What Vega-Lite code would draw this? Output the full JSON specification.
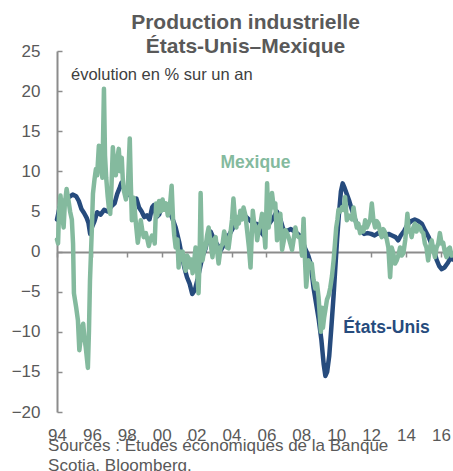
{
  "$schema": "https://vega.github.io/schema/vega-lite/v6.json",
  "autosize": "none",
  "padding": {"left": 57, "top": 51, "right": 0, "bottom": 59},
  "width": 397,
  "height": 361,
  "background": "white",
  "config": {"view": {"stroke": null}, "font": "Liberation Sans", "axis": {"labelOverlap": false, "labelBound": false, "labelFlush": false}},
  "title": {
    "text": ["Production industrielle", "États-Unis–Mexique"],
    "fontSize": 21,
    "fontWeight": "bold",
    "color": "#595959",
    "font": "Liberation Sans",
    "lineHeight": 24,
    "anchor": "middle",
    "frame": "group",
    "dx": -10,
    "offset": -15
  },
  "datasets": {
    "us": [
      {"t":1994.0,"v":4.0},{"t":1994.15,"v":5.5},{"t":1994.3,"v":5.8},{"t":1994.5,"v":6.5},{"t":1994.7,"v":6.8},{"t":1994.9,"v":7.1},
      {"t":1995.1,"v":6.9},{"t":1995.25,"v":6.3},{"t":1995.4,"v":5.3},{"t":1995.55,"v":4.8},{"t":1995.7,"v":4.2},{"t":1995.8,"v":3.6},{"t":1995.9,"v":2.2},
      {"t":1996.0,"v":3.0},{"t":1996.15,"v":3.8},{"t":1996.3,"v":4.9},{"t":1996.5,"v":4.6},{"t":1996.7,"v":5.2},{"t":1996.9,"v":5.0},
      {"t":1997.1,"v":5.6},{"t":1997.3,"v":6.0},{"t":1997.45,"v":7.2},{"t":1997.6,"v":8.0},{"t":1997.7,"v":8.6},{"t":1997.85,"v":7.8},
      {"t":1998.0,"v":7.2},{"t":1998.2,"v":7.0},{"t":1998.4,"v":6.2},{"t":1998.55,"v":6.6},{"t":1998.7,"v":5.5},{"t":1998.85,"v":5.0},
      {"t":1999.0,"v":4.3},{"t":1999.15,"v":4.5},{"t":1999.3,"v":4.0},{"t":1999.45,"v":5.5},{"t":1999.55,"v":5.8},{"t":1999.7,"v":4.3},{"t":1999.85,"v":4.6},
      {"t":2000.0,"v":5.5},{"t":2000.2,"v":5.8},{"t":2000.4,"v":5.3},{"t":2000.6,"v":4.2},{"t":2000.8,"v":3.0},
      {"t":2001.0,"v":1.2},{"t":2001.15,"v":-0.5},{"t":2001.3,"v":-2.0},{"t":2001.45,"v":-3.2},{"t":2001.6,"v":-4.0},{"t":2001.75,"v":-5.3},{"t":2001.9,"v":-4.8},
      {"t":2002.05,"v":-3.5},{"t":2002.2,"v":-2.0},{"t":2002.35,"v":-0.5},{"t":2002.5,"v":0.3},{"t":2002.65,"v":1.8},{"t":2002.8,"v":2.5},
      {"t":2003.0,"v":1.5},{"t":2003.2,"v":0.8},{"t":2003.4,"v":0.2},{"t":2003.55,"v":0.8},{"t":2003.7,"v":1.6},{"t":2003.9,"v":2.2},
      {"t":2004.1,"v":3.0},{"t":2004.3,"v":3.7},{"t":2004.5,"v":4.3},{"t":2004.7,"v":4.6},{"t":2004.9,"v":4.2},
      {"t":2005.1,"v":3.8},{"t":2005.3,"v":3.5},{"t":2005.5,"v":3.4},{"t":2005.7,"v":2.4},{"t":2005.85,"v":2.0},
      {"t":2006.0,"v":3.0},{"t":2006.2,"v":3.6},{"t":2006.4,"v":4.2},{"t":2006.6,"v":5.0},{"t":2006.8,"v":4.0},
      {"t":2007.0,"v":2.5},{"t":2007.2,"v":2.6},{"t":2007.4,"v":2.8},{"t":2007.6,"v":2.5},{"t":2007.8,"v":2.2},
      {"t":2008.0,"v":1.8},{"t":2008.2,"v":0.5},{"t":2008.4,"v":-0.5},{"t":2008.55,"v":-1.6},{"t":2008.7,"v":-4.5},{"t":2008.85,"v":-6.5},
      {"t":2009.0,"v":-8.5},{"t":2009.15,"v":-11.0},{"t":2009.28,"v":-14.0},{"t":2009.38,"v":-15.5},{"t":2009.48,"v":-15.0},{"t":2009.6,"v":-13.0},{"t":2009.72,"v":-9.5},{"t":2009.85,"v":-5.5},{"t":2009.95,"v":-2.0},
      {"t":2010.05,"v":1.5},{"t":2010.15,"v":4.5},{"t":2010.27,"v":7.5},{"t":2010.37,"v":8.5},{"t":2010.47,"v":8.0},{"t":2010.6,"v":7.2},{"t":2010.75,"v":6.3},{"t":2010.9,"v":5.2},
      {"t":2011.05,"v":4.2},{"t":2011.2,"v":3.3},{"t":2011.4,"v":2.6},{"t":2011.6,"v":2.2},{"t":2011.8,"v":2.3},
      {"t":2012.0,"v":2.2},{"t":2012.2,"v":2.0},{"t":2012.4,"v":2.3},{"t":2012.6,"v":2.1},{"t":2012.8,"v":1.9},
      {"t":2013.0,"v":2.2},{"t":2013.2,"v":2.0},{"t":2013.4,"v":1.8},{"t":2013.55,"v":1.4},{"t":2013.7,"v":2.0},{"t":2013.9,"v":2.6},
      {"t":2014.1,"v":3.4},{"t":2014.3,"v":3.8},{"t":2014.5,"v":4.0},{"t":2014.7,"v":3.8},{"t":2014.9,"v":3.5},
      {"t":2015.1,"v":2.6},{"t":2015.3,"v":1.8},{"t":2015.45,"v":1.0},{"t":2015.6,"v":0.2},{"t":2015.75,"v":-1.0},{"t":2015.9,"v":-1.8},
      {"t":2016.05,"v":-2.2},{"t":2016.2,"v":-2.0},{"t":2016.4,"v":-1.4},{"t":2016.55,"v":-0.8},{"t":2016.7,"v":-1.0}
    ],
    "mx": [
      {"t":1994.0,"v":1.5},{"t":1994.06,"v":1.0},{"t":1994.12,"v":5.0},{"t":1994.2,"v":7.0},{"t":1994.3,"v":4.5},{"t":1994.38,"v":3.0},{"t":1994.45,"v":6.0},{"t":1994.55,"v":7.8},{"t":1994.65,"v":6.5},{"t":1994.75,"v":5.0},{"t":1994.85,"v":4.0},{"t":1994.92,"v":1.0},{"t":1994.97,"v":-5.2},
      {"t":1995.1,"v":-7.0},{"t":1995.2,"v":-8.6},{"t":1995.28,"v":-12.3},{"t":1995.35,"v":-11.0},{"t":1995.43,"v":-9.5},{"t":1995.5,"v":-9.0},{"t":1995.57,"v":-10.7},{"t":1995.65,"v":-12.0},{"t":1995.77,"v":-14.5},{"t":1995.83,"v":-10.0},{"t":1995.89,"v":-3.6},
      {"t":1996.0,"v":3.0},{"t":1996.06,"v":7.2},{"t":1996.15,"v":9.0},{"t":1996.23,"v":10.3},{"t":1996.3,"v":9.5},{"t":1996.4,"v":13.2},{"t":1996.5,"v":11.0},{"t":1996.6,"v":9.2},{"t":1996.69,"v":20.3},{"t":1996.75,"v":12.0},{"t":1996.82,"v":9.2},{"t":1996.9,"v":7.0},{"t":1996.97,"v":5.5},
      {"t":1997.05,"v":4.7},{"t":1997.12,"v":8.0},{"t":1997.2,"v":13.0},{"t":1997.28,"v":10.5},{"t":1997.37,"v":9.5},{"t":1997.45,"v":11.5},{"t":1997.54,"v":12.8},{"t":1997.62,"v":10.0},{"t":1997.71,"v":11.7},{"t":1997.77,"v":9.0},{"t":1997.83,"v":7.6},{"t":1997.95,"v":6.5},
      {"t":1998.06,"v":8.0},{"t":1998.17,"v":14.1},{"t":1998.23,"v":8.5},{"t":1998.29,"v":3.9},{"t":1998.35,"v":5.0},{"t":1998.4,"v":6.7},{"t":1998.5,"v":4.0},{"t":1998.63,"v":1.1},{"t":1998.72,"v":2.5},{"t":1998.8,"v":3.9},{"t":1998.9,"v":2.5},{"t":1998.97,"v":1.8},
      {"t":1999.09,"v":2.3},{"t":1999.18,"v":1.5},{"t":1999.26,"v":0.7},{"t":1999.35,"v":1.5},{"t":1999.45,"v":2.0},{"t":1999.54,"v":1.8},{"t":1999.6,"v":1.0},{"t":1999.68,"v":6.0},{"t":1999.75,"v":4.5},{"t":1999.85,"v":6.3},{"t":1999.94,"v":5.0},
      {"t":2000.05,"v":6.5},{"t":2000.15,"v":5.2},{"t":2000.25,"v":6.0},{"t":2000.35,"v":4.5},{"t":2000.45,"v":5.2},{"t":2000.57,"v":8.2},{"t":2000.65,"v":4.0},{"t":2000.72,"v":2.0},{"t":2000.8,"v":0.5},{"t":2000.9,"v":1.5},{"t":2000.97,"v":-2.0},
      {"t":2001.05,"v":0.0},{"t":2001.12,"v":-1.0},{"t":2001.2,"v":0.0},{"t":2001.28,"v":-1.5},{"t":2001.37,"v":-2.4},{"t":2001.45,"v":-0.5},{"t":2001.54,"v":-0.8},{"t":2001.62,"v":-2.0},{"t":2001.7,"v":-1.0},{"t":2001.77,"v":-2.7},{"t":2001.85,"v":-1.5},{"t":2001.94,"v":0.5},
      {"t":2002.02,"v":-2.0},{"t":2002.11,"v":-5.2},{"t":2002.17,"v":-1.0},{"t":2002.23,"v":7.3},{"t":2002.29,"v":1.0},{"t":2002.34,"v":-1.1},{"t":2002.42,"v":0.0},{"t":2002.51,"v":0.5},{"t":2002.6,"v":2.0},{"t":2002.69,"v":3.0},{"t":2002.8,"v":1.0},{"t":2002.91,"v":-0.7},
      {"t":2003.0,"v":1.5},{"t":2003.09,"v":1.8},{"t":2003.18,"v":0.0},{"t":2003.26,"v":-1.5},{"t":2003.38,"v":0.5},{"t":2003.49,"v":1.0},{"t":2003.58,"v":2.5},{"t":2003.66,"v":1.8},{"t":2003.75,"v":0.5},{"t":2003.83,"v":0.4},{"t":2003.95,"v":2.5},
      {"t":2004.03,"v":4.0},{"t":2004.11,"v":6.6},{"t":2004.2,"v":4.0},{"t":2004.28,"v":3.0},{"t":2004.34,"v":4.3},{"t":2004.42,"v":3.5},{"t":2004.51,"v":5.1},{"t":2004.6,"v":4.0},{"t":2004.69,"v":5.5},{"t":2004.8,"v":4.5},{"t":2004.91,"v":2.3},
      {"t":2005.0,"v":0.5},{"t":2005.09,"v":-2.0},{"t":2005.16,"v":2.0},{"t":2005.22,"v":5.1},{"t":2005.3,"v":3.5},{"t":2005.4,"v":3.0},{"t":2005.47,"v":1.4},{"t":2005.56,"v":2.7},{"t":2005.66,"v":3.5},{"t":2005.75,"v":4.7},{"t":2005.85,"v":3.0},{"t":2005.94,"v":0.5},
      {"t":2006.04,"v":8.5},{"t":2006.13,"v":3.0},{"t":2006.22,"v":5.0},{"t":2006.32,"v":7.3},{"t":2006.42,"v":5.5},{"t":2006.51,"v":6.0},{"t":2006.61,"v":1.4},{"t":2006.7,"v":3.0},{"t":2006.8,"v":4.7},{"t":2006.9,"v":0.2},
      {"t":2007.0,"v":1.4},{"t":2007.09,"v":2.7},{"t":2007.18,"v":2.3},{"t":2007.27,"v":1.8},{"t":2007.37,"v":1.0},{"t":2007.47,"v":0.2},{"t":2007.56,"v":1.5},{"t":2007.66,"v":3.0},{"t":2007.75,"v":2.0},{"t":2007.85,"v":1.8},{"t":2007.94,"v":1.8},
      {"t":2008.04,"v":-0.5},{"t":2008.13,"v":4.1},{"t":2008.2,"v":-0.5},{"t":2008.28,"v":-4.4},{"t":2008.36,"v":-2.5},{"t":2008.42,"v":-1.1},{"t":2008.51,"v":-2.0},{"t":2008.6,"v":-1.5},{"t":2008.7,"v":-3.5},{"t":2008.8,"v":-4.6},{"t":2008.9,"v":-4.0},{"t":2008.99,"v":-5.7},
      {"t":2009.06,"v":-8.0},{"t":2009.12,"v":-10.0},{"t":2009.18,"v":-7.0},{"t":2009.24,"v":-9.5},{"t":2009.31,"v":-8.2},{"t":2009.4,"v":-7.0},{"t":2009.47,"v":-6.0},{"t":2009.56,"v":-5.5},{"t":2009.66,"v":-4.5},{"t":2009.76,"v":-3.0},{"t":2009.85,"v":-1.1},{"t":2009.93,"v":1.0},
      {"t":2010.0,"v":3.0},{"t":2010.07,"v":4.0},{"t":2010.13,"v":5.2},{"t":2010.23,"v":5.0},{"t":2010.33,"v":5.5},{"t":2010.42,"v":5.2},{"t":2010.51,"v":6.8},{"t":2010.61,"v":3.9},{"t":2010.7,"v":4.5},{"t":2010.8,"v":4.3},{"t":2010.9,"v":4.0},{"t":2010.99,"v":5.5},
      {"t":2011.1,"v":3.9},{"t":2011.18,"v":3.0},{"t":2011.27,"v":3.5},{"t":2011.37,"v":2.3},{"t":2011.47,"v":3.0},{"t":2011.56,"v":2.5},{"t":2011.66,"v":3.9},{"t":2011.75,"v":3.0},{"t":2011.85,"v":3.5},{"t":2011.95,"v":4.0},
      {"t":2012.04,"v":6.0},{"t":2012.13,"v":4.0},{"t":2012.23,"v":3.0},{"t":2012.32,"v":3.8},{"t":2012.42,"v":3.5},{"t":2012.51,"v":2.5},{"t":2012.61,"v":1.8},{"t":2012.7,"v":2.8},{"t":2012.8,"v":2.4},{"t":2012.9,"v":1.5},{"t":2012.99,"v":0.5},
      {"t":2013.09,"v":-3.2},{"t":2013.18,"v":0.5},{"t":2013.27,"v":-0.2},{"t":2013.37,"v":-1.5},{"t":2013.47,"v":-1.1},{"t":2013.56,"v":-0.5},{"t":2013.66,"v":0.5},{"t":2013.75,"v":-0.5},{"t":2013.85,"v":-0.2},{"t":2013.96,"v":1.5},
      {"t":2014.08,"v":4.7},{"t":2014.16,"v":2.5},{"t":2014.23,"v":2.7},{"t":2014.32,"v":1.8},{"t":2014.42,"v":3.0},{"t":2014.51,"v":3.5},{"t":2014.6,"v":2.5},{"t":2014.7,"v":3.2},{"t":2014.8,"v":3.0},{"t":2014.9,"v":2.5},{"t":2014.99,"v":2.3},
      {"t":2015.08,"v":1.0},{"t":2015.17,"v":0.5},{"t":2015.27,"v":-1.1},{"t":2015.37,"v":0.5},{"t":2015.47,"v":1.4},{"t":2015.56,"v":0.3},{"t":2015.66,"v":-0.7},{"t":2015.75,"v":0.5},{"t":2015.85,"v":1.0},{"t":2015.94,"v":2.3},
      {"t":2016.04,"v":1.0},{"t":2016.13,"v":1.1},{"t":2016.22,"v":0.0},{"t":2016.32,"v":-0.7},{"t":2016.42,"v":0.3},{"t":2016.51,"v":0.5},{"t":2016.6,"v":-0.5},{"t":2016.68,"v":-0.2}
    ]
  },
  "layer": [
    {
      "data": {"name": "us"},
      "mark": {"type": "line", "color": "#264b7d", "strokeWidth": 4.5, "strokeJoin": "round", "strokeCap": "round"},
      "encoding": {
        "x": {
          "field": "t", "type": "quantitative",
          "scale": {"domain": [1994, 2016.75], "nice": false, "zero": false},
          "axis": {
            "title": null,
            "values": [1994, 1996, 1998, 2000, 2002, 2004, 2006, 2008, 2010, 2012, 2014, 2016],
            "tickCount": 30,
            "format": "d",
            "labelExpr": "substring(datum.label, 2)",
            "offset": -160,
            "domainColor": "#8c8c8c",
            "domainWidth": 2,
            "tickColor": "#8c8c8c",
            "tickWidth": 1.5,
            "tickSize": 5,
            "labelPadding": 170,
            "labelFontSize": 17,
            "labelColor": "#595959",
            "labelFont": "Liberation Sans",
            "labelBaseline": "top",
            "labelFlush": false,
            "labelOverlap": false,
            "labelBound": false,
            "grid": false
          }
        },
        "y": {
          "field": "v", "type": "quantitative",
          "scale": {"domain": [-20, 25], "nice": false},
          "axis": {
            "title": null,
            "values": [-20, -15, -10, -5, 0, 5, 10, 15, 20, 25],
            "tickCount": 20,
            "domainColor": "#8c8c8c",
            "domainWidth": 2,
            "tickColor": "#8c8c8c",
            "tickWidth": 1.5,
            "tickSize": -5,
            "labelPadding": 22,
            "labelFontSize": 17,
            "labelColor": "#595959",
            "labelFont": "Liberation Sans",
            "labelOverlap": false,
            "grid": false
          }
        }
      }
    },
    {
      "data": {"name": "mx"},
      "mark": {"type": "line", "color": "#84ba9e", "strokeWidth": 4.5, "strokeJoin": "round", "strokeCap": "round"},
      "encoding": {
        "x": {"field": "t", "type": "quantitative"},
        "y": {"field": "v", "type": "quantitative"}
      }
    },
    {
      "data": {"values": [{}]},
      "mark": {"type": "text", "text": "évolution en % sur un an", "align": "left", "baseline": "alphabetic", "fontSize": 16.5, "color": "#404040", "font": "Liberation Sans"},
      "encoding": {"x": {"datum": 1994.8}, "y": {"datum": 21.4}}
    },
    {
      "data": {"values": [{}]},
      "mark": {"type": "text", "text": "Mexique", "align": "left", "baseline": "alphabetic", "fontSize": 17.5, "fontWeight": "bold", "color": "#84ba9e", "font": "Liberation Sans"},
      "encoding": {"x": {"datum": 2003.37}, "y": {"datum": 10.4}}
    },
    {
      "data": {"values": [{}]},
      "mark": {"type": "text", "text": "États-Unis", "align": "left", "baseline": "alphabetic", "fontSize": 17.5, "fontWeight": "bold", "color": "#264b7d", "font": "Liberation Sans"},
      "encoding": {"x": {"datum": 2010.4}, "y": {"datum": -10.15}}
    },
    {
      "data": {"values": [{}]},
      "mark": {"type": "text", "text": ["Sources : Études économiques de la Banque", "Scotia, Bloomberg."], "align": "left", "baseline": "alphabetic", "lineHeight": 20, "fontSize": 17, "color": "#595959", "font": "Liberation Sans"},
      "encoding": {"x": {"datum": 1993.49}, "y": {"datum": -24.8}}
    }
  ]
}
